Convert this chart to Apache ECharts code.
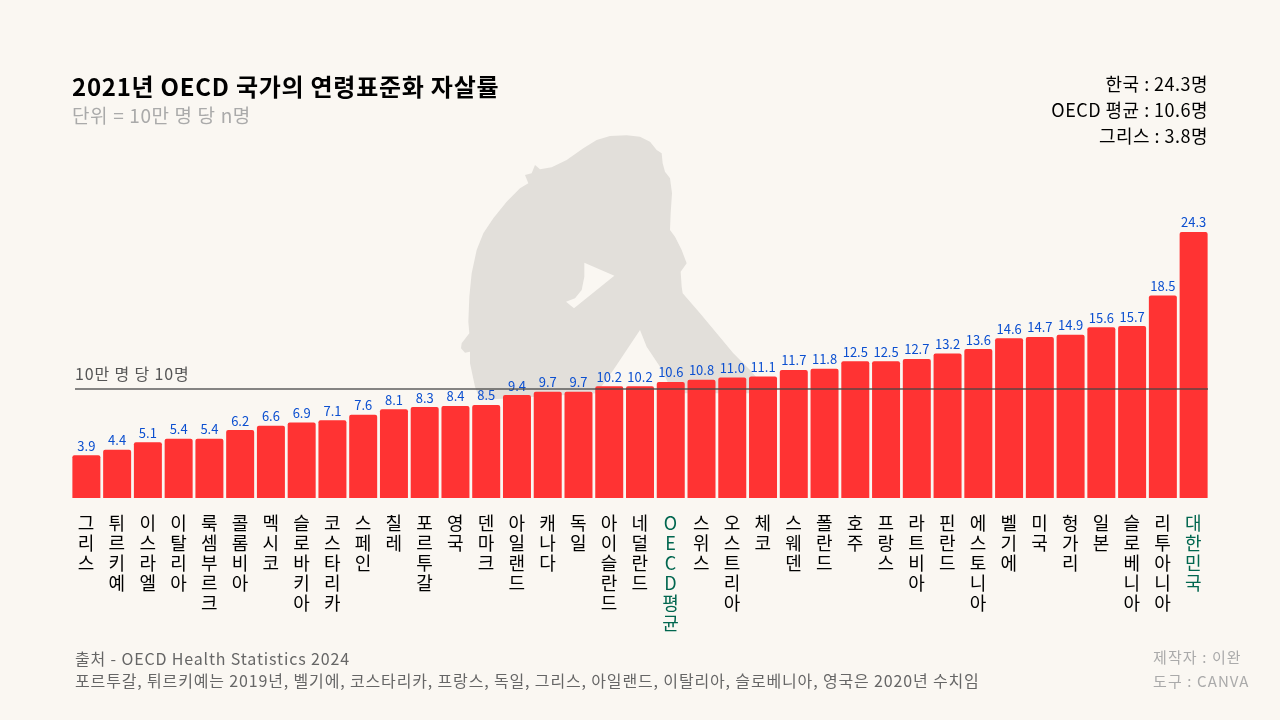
<!DOCTYPE html>
<html style="height: 100%">
<head>
    <meta charset="utf-8">
</head>
<body style="height: 100%; margin: 0; background: #faf7f2">
<div id="container" style="width: 1280px; height: 720px"></div>
<script type="text/javascript" src="https://cdn.jsdelivr.net/npm/echarts@6/dist/echarts.min.js"></script>
<script type="text/javascript">
  const countries = ['그리스', '튀르키예', '이스라엘', '이탈리아', '룩셈부르크', '콜롬비아', '멕시코', '슬로바키아', '코스타리카', '스페인', '칠레', '포르투갈', '영국', '덴마크', '아일랜드', '캐나다', '독일', '아이슬란드', '네덜란드', 'OECD평균', '스위스', '오스트리아', '체코', '스웨덴', '폴란드', '호주', '프랑스', '라트비아', '핀란드', '에스토니아', '벨기에', '미국', '헝가리', '일본', '슬로베니아', '리투아니아', '대한민국'];
  const rates = [3.9, 4.4, 5.1, 5.4, 5.4, 6.2, 6.6, 6.9, 7.1, 7.6, 8.1, 8.3, 8.4, 8.5, 9.4, 9.7, 9.7, 10.2, 10.2, 10.6, 10.8, 11.0, 11.1, 11.7, 11.8, 12.5, 12.5, 12.7, 13.2, 13.6, 14.6, 14.7, 14.9, 15.6, 15.7, 18.5, 24.3];
  const highlighted = ['OECD평균', '대한민국'];

  const font = '"Noto Sans CJK KR"';
  const bg = '#faf7f2';

  // 글자 크기별 자간(px) - zrender에 자간 옵션이 없어서 fillText에서 직접 넣는다
  const tracking = { 24: 0.74, 19: 0.64, 18: 0.47, 16: 0.85, 15: 1.1 };
  const fillText = CanvasRenderingContext2D.prototype.fillText;
  CanvasRenderingContext2D.prototype.fillText = function (...args) {
    const size = /([\d.]+)px/.exec(this.font);
    this.letterSpacing = ((size && tracking[parseFloat(size[1])]) || 0) + 'px';
    fillText.apply(this, args);
  };

  // 배경 실루엣 (zoom 좌표 기준, 1/3 스케일)
  const body = [[225,105],[240,118],[275,112],[320,90],[370,55],[410,30],[450,18],[500,16],[540,20],[570,35],[590,60],[605,70],[608,100],[615,125],[630,145],[636,190],[632,250],[630,300],[645,320],[665,360],[680,400],[662,425],[665,470],[668,490],[720,550],[770,610],[820,670],[870,720],[930,790],[640,790],[600,710],[560,650],[540,600],[500,660],[460,720],[410,790],[60,810],[45,770],[30,700],[30,665],[15,668],[3,655],[5,640],[28,610],[25,575],[28,500],[35,430],[50,360],[70,310],[100,265],[140,215],[180,175],[205,160],[195,135],[215,130]];
  const hole = [[373,398],[463,437],[342,535],[318,515],[345,505],[365,480],[373,440]];

  function text(x, y, str, size, color, align, weight) {
    return {
      type: 'text', x: x, y: y,
      style: { text: str, font: (weight || 400) + ' ' + size + 'px ' + font, fill: color, textAlign: align || 'left', textVerticalAlign: 'middle' }
    };
  }

  var myChart = echarts.init(document.getElementById('container'));
  var option = {
    backgroundColor: bg,
    animation: false,
    textStyle: { fontFamily: font },
    grid: { left: 71, right: 71, top: 224.25, height: 273.75 },
    xAxis: {
      type: 'category',
      data: countries,
      axisLine: { show: false },
      axisTick: { show: false },
      axisLabel: {
        interval: 0,
        margin: 15,
        fontSize: 18,
        lineHeight: 20,
        verticalAlign: 'top',
        color: (v) => highlighted.includes(v) ? '#00664f' : '#000',
        formatter: (v) => Array.from(v).join('\n')
      }
    },
    yAxis: { type: 'value', min: 0, max: 25, show: false, splitLine: { show: false } },
    graphic: [
      {
        type: 'group', x: 460, y: 130, scaleX: 1 / 3, scaleY: 1 / 3, silent: true,
        children: [
          { type: 'polygon', shape: { points: body }, style: { fill: '#e2dfda' } },
          { type: 'polygon', shape: { points: hole }, style: { fill: bg } }
        ]
      },
      text(72, 87, '2021년 OECD 국가의 연령표준화 자살률', 24, '#000', 'left', 700),
      text(72, 116, '단위 = 10만 명 당 n명', 19, '#aaa'),
      text(1208, 84, '한국 : 24.3명', 18, '#000', 'right'),
      text(1208, 110, 'OECD 평균 : 10.6명', 18, '#000', 'right'),
      text(1208, 136, '그리스 : 3.8명', 18, '#000', 'right'),
      text(75, 659, '출처 - OECD Health Statistics 2024', 16, '#666'),
      text(75, 681, '포르투갈, 튀르키예는 2019년, 벨기에, 코스타리카, 프랑스, 독일, 그리스, 아일랜드, 이탈리아, 슬로베니아, 영국은 2020년 수치임', 16, '#666'),
      text(1153, 657, '제작자 : 이완', 15, '#aaa'),
      text(1153, 681, '도구 : CANVA', 15, '#aaa')
    ],
    series: [
      {
        type: 'bar',
        data: rates,
        barCategoryGap: '9%',
        itemStyle: { color: '#ff3333', borderRadius: [2, 2, 0, 0] },
        label: {
          show: true,
          position: 'top',
          distance: 3,
          fontSize: 13,
          color: '#0b4fd0',
          formatter: (p) => p.value.toFixed(1)
        },
        markLine: {
          silent: true,
          symbol: 'none',
          lineStyle: { type: 'solid', color: 'rgba(70,70,70,0.65)', width: 2 },
          label: {
            position: 'insideStartTop',
            distance: [0, 7],
            fontSize: 16,
            color: '#555',
            formatter: '10만 명 당 10명'
          },
          data: [[{ x: 75, yAxis: 10 }, { x: 1208, yAxis: 10 }]]
        }
      }
    ]
  };
  myChart.setOption(option);
</script>
</body>
</html>
